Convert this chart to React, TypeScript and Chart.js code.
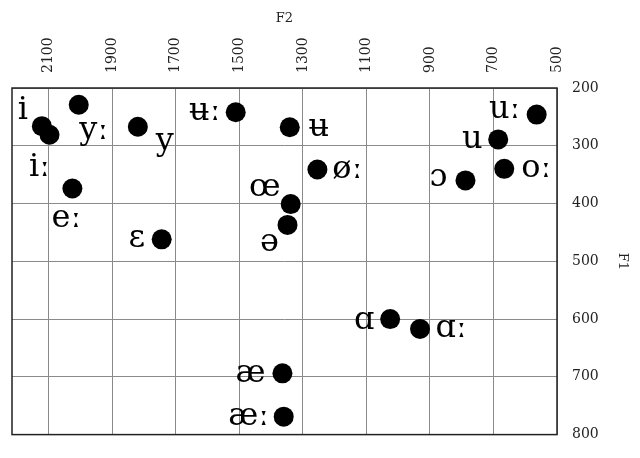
import React, { useEffect, useRef } from "react";
import { Chart, registerables } from "chart.js";

Chart.register(...registerables);

const vowels = ["i", "iː", "yː", "y", "eː", "ɛ", "ʉː", "ʉ", "øː", "œ", "ə", "uː", "u", "oː", "ɔ", "ɑ", "ɑː", "æ", "æː"];
const f2Values = [2121, 2097, 2005, 1819, 2025, 1744, 1511, 1341, 1254, 1338, 1348, 564, 685, 666, 788, 1025, 931, 1364, 1360];
const f1Values = [266, 281, 229, 267, 374, 462, 242, 268, 341, 401, 437, 246, 289, 340, 360, 600, 617, 694, 769];
const xTickValues = [2100, 1900, 1700, 1500, 1300, 1100, 900, 700, 500];
const yTickValues = [200, 300, 400, 500, 600, 700, 800];

// label placement relative to each point (px): [dx, dy to baseline]
const labelOffsets: [number, number][] = [
  [-19, -7], [-10, 41], [15, 34], [27, 23], [-6, 38], [-25, 8], [-31, 8], [29, 9], [30, 9],
  [-26, -8], [-18, 26], [-32, 3], [-26, 9], [32, 8], [-27, 6], [-26, 10], [31, 8], [-32, 9], [-35, 8],
];

const FONT = "'DejaVu Serif', serif";

const framePlugin = {
  id: "frame",
  afterDraw(chart: any) {
    const { ctx, chartArea } = chart;
    ctx.save();
    ctx.strokeStyle = "#222";
    ctx.lineWidth = 1.5;
    ctx.strokeRect(chartArea.left, chartArea.top, chartArea.right - chartArea.left, chartArea.bottom - chartArea.top);
    ctx.restore();
  },
};

const labelPlugin = {
  id: "vowelLabels",
  afterDatasetsDraw(chart: any) {
    const { ctx } = chart;
    const meta = chart.getDatasetMeta(0);
    ctx.save();
    ctx.font = `32px ${FONT}`;
    ctx.fillStyle = "#000";
    ctx.textAlign = "center";
    ctx.textBaseline = "alphabetic";
    meta.data.forEach((el: any, i: number) => {
      const [dx, dy] = labelOffsets[i];
      ctx.fillText(vowels[i], el.x + dx, el.y + dy);
    });
    ctx.restore();
  },
};

export default function App() {
  const ref = useRef<HTMLCanvasElement>(null);
  useEffect(() => {
    document.body.style.margin = "0";
    if (!ref.current) return;
    const chart = new Chart(ref.current, {
      type: "scatter",
      data: {
        datasets: [
          {
            data: f2Values.map((x, i) => ({ x, y: f1Values[i] })),
            backgroundColor: "#000",
            borderWidth: 0,
            pointRadius: 10,
            pointHoverRadius: 10,
          },
        ],
      },
      options: {
        responsive: false,
        animation: false,
        events: [],
        layout: { padding: { left: 12, right: 0, top: 0, bottom: 18.5 } },
        plugins: { legend: { display: false }, tooltip: { enabled: false } },
        scales: {
          x: {
            type: "linear",
            position: "top",
            reverse: true,
            min: 500,
            max: 2215,
            border: { display: false },
            grid: { color: "#8a8a8a", lineWidth: 1, drawTicks: false },
            afterBuildTicks: (scale: any) => {
              scale.ticks = xTickValues.map((v) => ({ value: v }));
            },
            afterFit: (scale: any) => {
              scale.height = 88;
            },
            ticks: {
              includeBounds: false,
              minRotation: 90,
              maxRotation: 90,
              padding: 15,
              labelOffset: 17,
              color: "#222",
              font: { family: FONT, size: 14 },
              callback: (v: any) => String(v),
            },
            title: {
              display: true,
              text: "F2",
              color: "#222",
              font: { family: FONT, size: 13 },
              padding: { top: 11, bottom: 0 },
            },
          },
          y: {
            type: "linear",
            position: "right",
            reverse: true,
            min: 200,
            max: 800,
            border: { display: false },
            grid: { color: "#8a8a8a", lineWidth: 1, drawTicks: false },
            afterBuildTicks: (scale: any) => {
              scale.ticks = yTickValues.map((v) => ({ value: v }));
            },
            afterFit: (scale: any) => {
              scale.width = 83;
            },
            ticks: {
              padding: 15,
              color: "#222",
              font: { family: FONT, size: 14 },
              callback: (v: any) => String(v),
            },
            title: {
              display: true,
              text: "F1",
              color: "#222",
              font: { family: FONT, size: 13 },
              padding: { top: 10, bottom: 0 },
            },
          },
        },
      },
      plugins: [framePlugin, labelPlugin],
    });
    return () => chart.destroy();
  }, []);
  return <canvas ref={ref} width={640} height={458} style={{ display: "block" }} />;
}
